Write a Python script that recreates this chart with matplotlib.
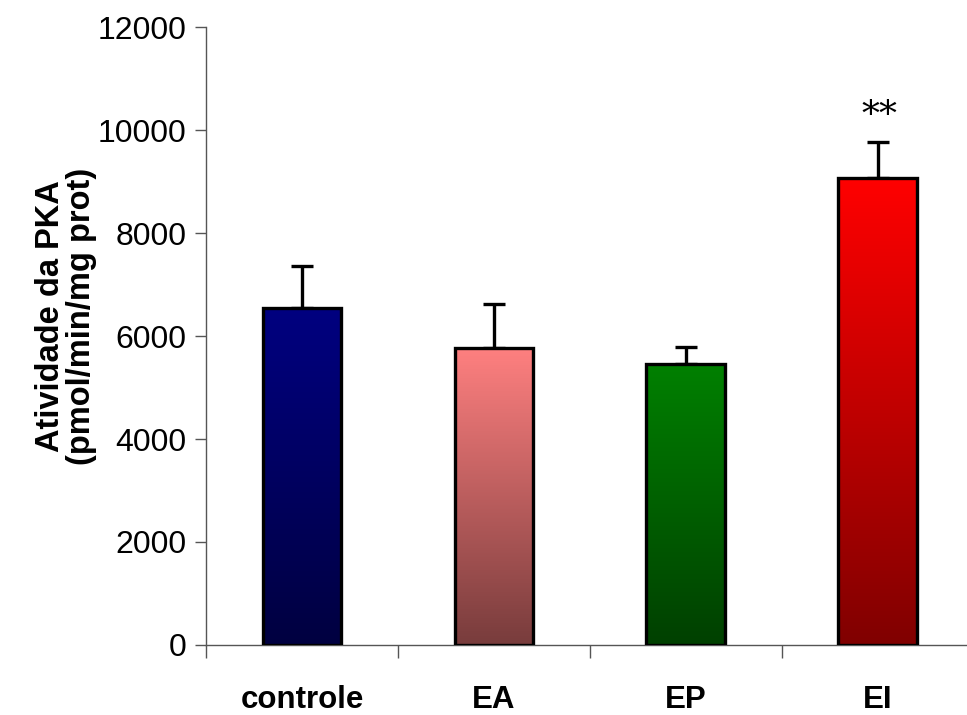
import matplotlib
matplotlib.use("Agg")
import matplotlib.pyplot as plt
import numpy as np
from matplotlib.colors import LinearSegmentedColormap

plt.rcParams['font.family'] = ['Liberation Sans', 'DejaVu Sans']

grupos = ['controle', 'EA', 'EP', 'EI']
media = [6540, 5770, 5460, 9070]
erro = [820, 850, 330, 700]
# cor no topo e na base de cada barra (degrade)
cor_topo = ['#000080', '#ff8080', '#008000', '#ff0000']
cor_base = ['#000040', '#783c3c', '#004000', '#800000']
signif = ['', '', '', '**']

fig = plt.figure(figsize=(9.67, 7.15), dpi=100)
ax = fig.add_axes([0.213, 0.098, 0.794, 0.864])

x = np.arange(len(grupos))
larg = 0.41
barras = ax.bar(x, media, width=larg, color='none', edgecolor='black',
                linewidth=2.4, zorder=3)

# preenche cada barra com um degrade vertical
grad = np.linspace(0, 1, 256).reshape(-1, 1)
for b, c0, c1 in zip(barras, cor_base, cor_topo):
    cmap = LinearSegmentedColormap.from_list('g', [c0, c1])
    x0 = b.get_x()
    h = b.get_height()
    im = ax.imshow(grad, cmap=cmap, origin='lower', aspect='auto',
                   extent=(x0, x0 + b.get_width(), 0, h), zorder=2)
    im.set_clip_path(b)

ax.errorbar(x, media, yerr=[np.zeros(len(erro)), erro], fmt='none',
            ecolor='black', elinewidth=2.4, capsize=8, capthick=2.4, zorder=1)

for xi, m, e, s in zip(x, media, erro, signif):
    if s:
        ax.text(xi + 0.01, m + e + 170, s, ha='center', va='bottom',
                fontsize=26, family='DejaVu Serif')

ax.set_xlim(-0.5, 3.5)
ax.set_ylim(0, 12000)
ax.set_yticks(np.arange(0, 12001, 2000))
ax.set_xticks(x)
ax.set_xticklabels(grupos, fontsize=22.5, fontweight='bold')
ax.set_xticks([-0.5, 0.5, 1.5, 2.5], minor=True)
ax.tick_params(axis='x', which='major', length=0, pad=29)
ax.tick_params(axis='x', which='minor', length=9, width=1, color='#555555',
               direction='out')
ax.tick_params(axis='y', labelsize=23, length=8, width=1, color='#555555',
               pad=6)

for lado in ['top', 'right']:
    ax.spines[lado].set_visible(False)
for lado in ['left', 'bottom']:
    ax.spines[lado].set_color('#555555')
    ax.spines[lado].set_linewidth(1)

fig.text(66 / 967, 1 - 316 / 715, 'Atividade da PKA\n(pmol/min/mg prot)',
         rotation=90, ha='center', va='center', multialignment='center',
         fontsize=23.5, fontweight='bold', linespacing=1.0)

fig.savefig('out.png', dpi=100)
